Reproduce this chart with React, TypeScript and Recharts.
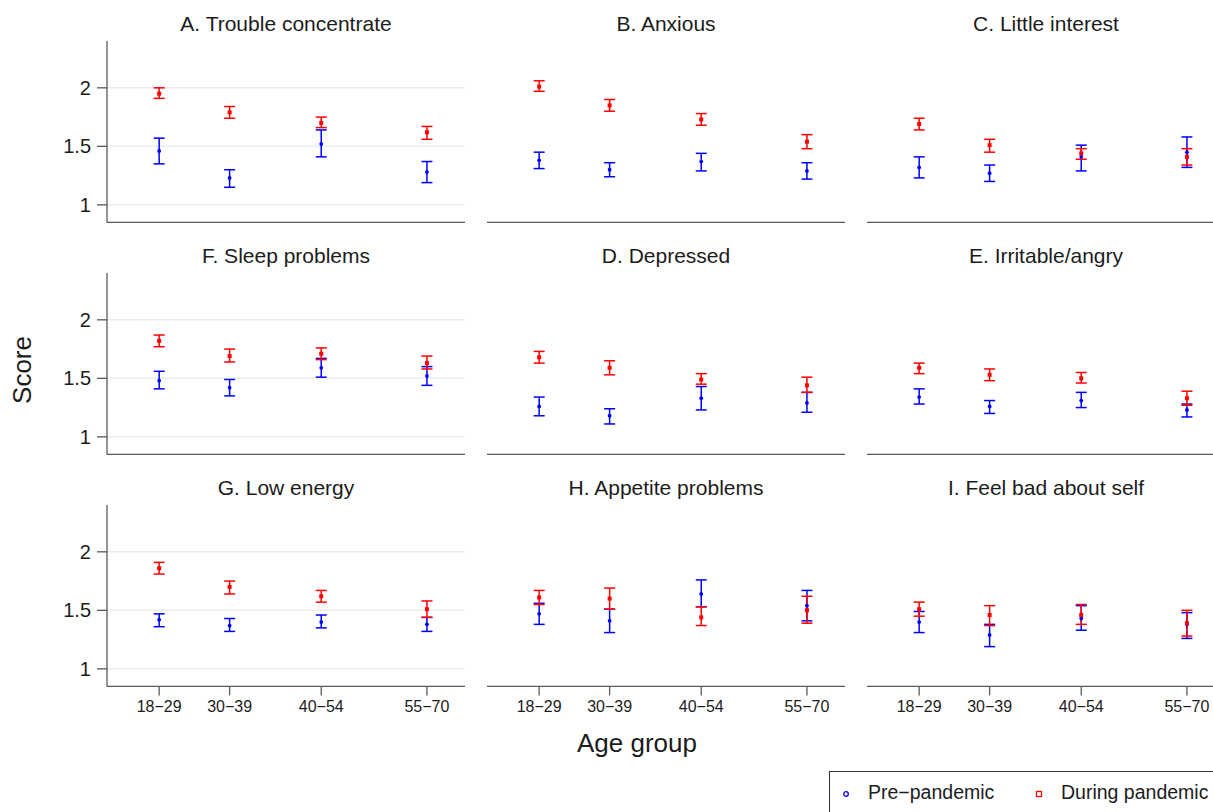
import React from "react";
import { ScatterChart, Scatter, XAxis, YAxis, CartesianGrid, ErrorBar } from "recharts";

// panels in reading order (row by row)
const panelTitles = [
    "A. Trouble concentrate", "B. Anxious", "C. Little interest",
    "F. Sleep problems", "D. Depressed", "E. Irritable/angry",
    "G. Low energy", "H. Appetite problems", "I. Feel bad about self",
];
const ageGroups = ["18\u221229", "30\u221239", "40\u221254", "55\u221270"];
const agePos = [1, 2, 3.3, 4.8];
const scoreTicks = [1, 1.5, 2];

const preMean = [
    [1.46, 1.23, 1.52, 1.28],
    [1.38, 1.30, 1.37, 1.29],
    [1.32, 1.27, 1.41, 1.45],
    [1.48, 1.42, 1.59, 1.52],
    [1.26, 1.18, 1.33, 1.29],
    [1.34, 1.26, 1.31, 1.23],
    [1.42, 1.37, 1.40, 1.38],
    [1.47, 1.41, 1.64, 1.54],
    [1.40, 1.29, 1.43, 1.38],
];
const preLow = [
    [1.35, 1.15, 1.41, 1.19],
    [1.31, 1.24, 1.29, 1.22],
    [1.23, 1.20, 1.29, 1.32],
    [1.41, 1.35, 1.51, 1.44],
    [1.18, 1.11, 1.23, 1.21],
    [1.28, 1.20, 1.25, 1.17],
    [1.36, 1.32, 1.35, 1.32],
    [1.38, 1.31, 1.53, 1.41],
    [1.31, 1.19, 1.33, 1.26],
];
const preHigh = [
    [1.57, 1.30, 1.64, 1.37],
    [1.45, 1.36, 1.44, 1.36],
    [1.41, 1.34, 1.51, 1.58],
    [1.56, 1.49, 1.67, 1.60],
    [1.34, 1.24, 1.43, 1.38],
    [1.41, 1.31, 1.38, 1.28],
    [1.47, 1.43, 1.46, 1.44],
    [1.56, 1.51, 1.76, 1.67],
    [1.49, 1.38, 1.54, 1.48],
];
const durMean = [
    [1.95, 1.79, 1.70, 1.62],
    [2.01, 1.85, 1.73, 1.54],
    [1.69, 1.51, 1.44, 1.41],
    [1.82, 1.69, 1.71, 1.63],
    [1.68, 1.59, 1.49, 1.44],
    [1.59, 1.53, 1.50, 1.33],
    [1.86, 1.70, 1.62, 1.51],
    [1.61, 1.60, 1.44, 1.50],
    [1.51, 1.46, 1.46, 1.39],
];
const durLow = [
    [1.91, 1.74, 1.66, 1.56],
    [1.97, 1.80, 1.68, 1.48],
    [1.64, 1.45, 1.39, 1.34],
    [1.77, 1.64, 1.66, 1.58],
    [1.63, 1.53, 1.45, 1.38],
    [1.54, 1.48, 1.46, 1.27],
    [1.81, 1.64, 1.57, 1.44],
    [1.55, 1.51, 1.37, 1.39],
    [1.45, 1.37, 1.38, 1.28],
];
const durHigh = [
    [2.00, 1.84, 1.75, 1.67],
    [2.06, 1.90, 1.78, 1.60],
    [1.74, 1.56, 1.48, 1.48],
    [1.87, 1.75, 1.76, 1.69],
    [1.73, 1.65, 1.54, 1.51],
    [1.63, 1.58, 1.55, 1.39],
    [1.91, 1.75, 1.67, 1.58],
    [1.67, 1.69, 1.53, 1.62],
    [1.57, 1.54, 1.55, 1.50],
];

const FONT = '"Liberation Sans", Arial, Helvetica, sans-serif';
const TEXT = "#1c1c1c";
const AXIS = "#5a5a5a";
const BLUE = "#0000ff";
const RED = "#ff0000";

const PLOT_W = 358;
const Y_AXIS_W = 60;
const PLOT_LEFTS = [107, 487, 867];
const FIRST_PLOT_TOP = 41.2;
const ROW_STEP = 232;
const PLOT_H = 181.4;
const TOP_PAD = 5;
const X_AXIS_H = 40;

const BlueDot = (props: any) => <circle cx={props.cx} cy={props.cy} r={1.9} fill={BLUE} />;
const RedSquare = (props: any) => (
    <rect x={props.cx - 2} y={props.cy - 2} width={4} height={4} fill={RED} />
);

function buildSeries(mean: number[], low: number[], high: number[]) {
    return agePos.map((x, i) => ({
        x,
        y: mean[i],
        err: [mean[i] - low[i], high[i] - mean[i]],
    }));
}

function Panel({ idx }: { idx: number }) {
    const row = Math.floor(idx / 3);
    const col = idx % 3;
    const plotLeft = PLOT_LEFTS[col];
    const plotTop = FIRST_PLOT_TOP + row * ROW_STEP;
    const showX = row === 2;
    const showY = col === 0;

    const pre = buildSeries(preMean[idx], preLow[idx], preHigh[idx]);
    const during = buildSeries(durMean[idx], durLow[idx], durHigh[idx]);

    return (
        <>
            <div
                style={{
                    position: "absolute",
                    left: plotLeft + PLOT_W / 2,
                    top: 24 + row * ROW_STEP,
                    transform: "translate(-50%, -50%)",
                    whiteSpace: "nowrap",
                    fontSize: 21,
                    color: TEXT,
                    fontFamily: FONT,
                }}
            >
                {panelTitles[idx]}
            </div>
            <div style={{ position: "absolute", left: plotLeft - Y_AXIS_W, top: plotTop - TOP_PAD }}>
                <ScatterChart
                    width={Y_AXIS_W + PLOT_W + 8}
                    height={TOP_PAD + PLOT_H + X_AXIS_H}
                    margin={{ top: TOP_PAD, right: 8, left: 0, bottom: 0 }}
                >
                    <CartesianGrid
                        vertical={false}
                        horizontalValues={scoreTicks}
                        stroke="#e6eff0"
                        strokeWidth={1.5}
                    />
                    <XAxis
                        type="number"
                        dataKey="x"
                        domain={[0.26, 5.34]}
                        ticks={agePos}
                        allowDataOverflow
                        height={X_AXIS_H}
                        stroke={AXIS}
                        strokeWidth={1.3}
                        tickLine={showX}
                        tick={showX ? { fontSize: 16, fill: TEXT, fontFamily: FONT } : false}
                        tickSize={9}
                        tickMargin={5}
                        tickFormatter={(v: number) => ageGroups[agePos.indexOf(v)] ?? ""}
                        interval={0}
                    />
                    <YAxis
                        type="number"
                        dataKey="y"
                        domain={[0.85, 2.4]}
                        ticks={scoreTicks}
                        allowDataOverflow
                        width={Y_AXIS_W}
                        axisLine={showY}
                        tickLine={showY}
                        stroke={AXIS}
                        strokeWidth={1.3}
                        tick={showY ? { fontSize: 20, fill: TEXT, fontFamily: FONT } : false}
                        tickSize={10}
                        tickMargin={6}
                        interval={0}
                    />
                    <Scatter data={pre} shape={BlueDot} isAnimationActive={false}>
                        <ErrorBar dataKey="err" direction="y" width={5.5} stroke={BLUE} strokeWidth={1.5} isAnimationActive={false} />
                    </Scatter>
                    <Scatter data={during} shape={RedSquare} isAnimationActive={false}>
                        <ErrorBar dataKey="err" direction="y" width={5.5} stroke={RED} strokeWidth={1.5} isAnimationActive={false} />
                    </Scatter>
                </ScatterChart>
            </div>
        </>
    );
}

export default function App() {
    return (
        <div
            style={{
                position: "fixed",
                left: 0,
                top: 0,
                width: 1213,
                height: 812,
                overflow: "hidden",
                background: "#fff",
                fontFamily: FONT,
                color: TEXT,
            }}
        >
            {panelTitles.map((_, i) => (
                <Panel key={i} idx={i} />
            ))}

            {/* shared axis titles */}
            <div
                style={{
                    position: "absolute",
                    left: 22,
                    top: 370,
                    transform: "translate(-50%, -50%) rotate(-90deg)",
                    fontSize: 26,
                    whiteSpace: "nowrap",
                }}
            >
                Score
            </div>
            <div
                style={{
                    position: "absolute",
                    left: 637,
                    top: 743,
                    transform: "translate(-50%, -50%)",
                    fontSize: 26,
                    whiteSpace: "nowrap",
                }}
            >
                Age group
            </div>

            {/* legend box, cut by the page edge like the original */}
            <div
                style={{
                    position: "absolute",
                    left: 829,
                    top: 771,
                    width: 420,
                    height: 70,
                    border: "1px solid #333",
                    boxSizing: "border-box",
                }}
            >
                <svg style={{ position: "absolute", left: 12, top: 18 }} width={8} height={8}>
                    <circle cx={4} cy={4} r={2.3} fill="none" stroke={BLUE} strokeWidth={1.3} />
                </svg>
                <span style={{ position: "absolute", left: 38, top: 9, fontSize: 19.5, whiteSpace: "nowrap" }}>
                    Pre{"\u2212"}pandemic
                </span>
                <svg style={{ position: "absolute", left: 205, top: 18 }} width={8} height={8}>
                    <rect x={1.5} y={1.5} width={5} height={5} fill="none" stroke={RED} strokeWidth={1.3} />
                </svg>
                <span style={{ position: "absolute", left: 231, top: 9, fontSize: 19.5, whiteSpace: "nowrap" }}>
                    During pandemic
                </span>
            </div>
        </div>
    );
}
